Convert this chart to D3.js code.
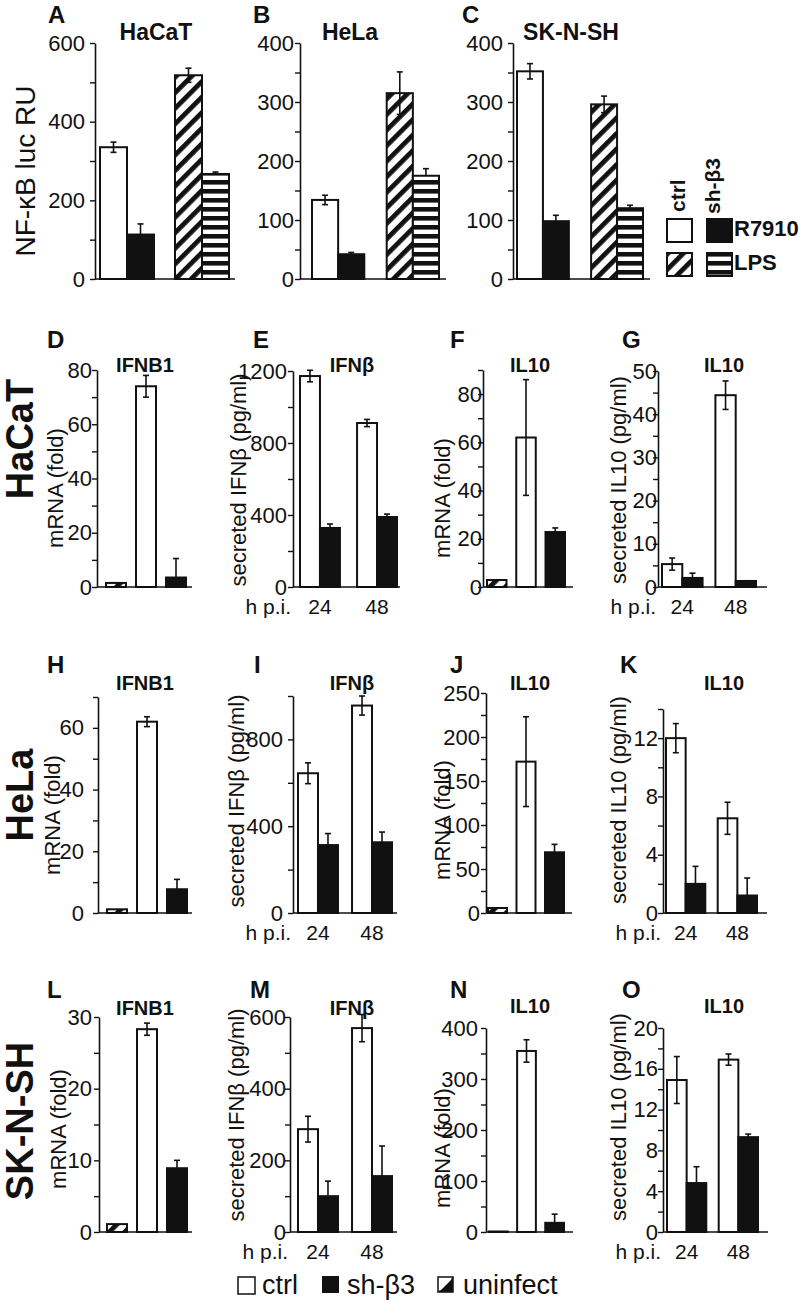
<!DOCTYPE html>
<html><head><meta charset="utf-8">
<script src="https://cdn.jsdelivr.net/npm/d3@7"></script>
<style>
body{margin:0;background:#fff}
text{font-family:"Liberation Sans",Arial,Helvetica,sans-serif;fill:#111}
</style></head>
<body>
<script>
// ---------- DATA ----------
// Top row: NF-kB luciferase (order: R7910 ctrl, R7910 sh-β3, LPS ctrl, LPS sh-β3)
const nfkbConditions = ["R7910", "LPS"];
const nfkbSeries = ["ctrl", "sh-β3"];
const nfkbHaCaT = [335, 113, 518, 267];
const nfkbHaCaTErr = [13, 27, 18, 5];
const nfkbHeLa = [134, 42, 315, 175];
const nfkbHeLaErr = [8, 3, 36, 12];
const nfkbSKNSH = [352, 98, 296, 120];
const nfkbSKNSHErr = [13, 10, 14, 5];

// mRNA panels (uninfect, ctrl, sh-β3)
const mrnaGroups = ["uninfect", "ctrl", "sh-β3"];
// secreted panels (24 ctrl, 24 sh-β3, 48 ctrl, 48 sh-β3)
const hpiTimes = ["24", "48"];
const secSeries = ["ctrl", "sh-β3"];

const hacatIFNB1 = [1.5, 74, 3.5],      hacatIFNB1Err = [0, 4, 7];
const hacatIFNb = [1172, 328, 911, 389], hacatIFNbErr = [32, 22, 20, 16];
const hacatIL10mRNA = [2.9, 62, 22.8],  hacatIL10mRNAErr = [0, 24, 1.7];
const hacatIL10sec = [5.3, 2.1, 44.4, 1.4], hacatIL10secErr = [1.4, 1.1, 3.3, 0];

const helaIFNB1 = [1.2, 62, 7.7],       helaIFNB1Err = [0, 1.6, 3.2];
const helaIFNb = [644, 313, 956, 326],  helaIFNbErr = [48, 53, 44, 47];
const helaIL10mRNA = [5.7, 172, 69],    helaIL10mRNAErr = [0, 51, 9];
const helaIL10sec = [12, 2, 6.5, 1.2],  helaIL10secErr = [1, 1.2, 1.1, 1.2];

const sknshIFNB1 = [1.1, 28.3, 8.9],    sknshIFNB1Err = [0, 0.85, 1.1];
const sknshIFNb = [287, 100, 569, 156], sknshIFNbErr = [36, 42, 38, 84];
const sknshIL10mRNA = [1, 355, 18],     sknshIL10mRNAErr = [0, 22, 17];
const sknshIL10sec = [14.9, 4.8, 16.9, 9.3], sknshIL10secErr = [2.3, 1.6, 0.55, 0.3];

// axis maxima / tick steps / label steps
const axisMax   = {A:600,B:400,C:400,D:80,E:1200,F:90,G:50,H:70,I:1000,J:250,K:14,L:30,M:600,N:400,O:20};
const tickStep  = {A:100,B:50,C:50,D:10,E:200,F:10,G:5,H:10,I:200,J:25,K:2,L:5,M:100,N:50,O:2};
const labelStep = {A:200,B:100,C:100,D:20,E:400,F:20,G:10,H:20,I:400,J:50,K:4,L:10,M:200,N:100,O:4};

const rowLabels = ["HaCaT", "HeLa", "SK-N-SH"];

// ---------- LAYOUT ----------
const W = 800, H = 1305;
const FONT = '"Liberation Sans",Arial,Helvetica,sans-serif';
const INK = "#111";

const svg = d3.select("body").append("svg").attr("width", W).attr("height", H);
const defs = svg.append("defs");
const pd = defs.append("pattern").attr("id", "diag").attr("patternUnits", "userSpaceOnUse")
  .attr("width", 11).attr("height", 11).attr("patternTransform", "rotate(45)");
pd.append("rect").attr("width", 11).attr("height", 11).attr("fill", "#fff");
pd.append("rect").attr("width", 4.8).attr("height", 11).attr("fill", INK);
const ph = defs.append("pattern").attr("id", "horiz").attr("patternUnits", "userSpaceOnUse")
  .attr("width", 9).attr("height", 9);
ph.append("rect").attr("width", 9).attr("height", 9).attr("fill", "#fff");
ph.append("rect").attr("width", 9).attr("height", 4.6).attr("fill", INK);

const panels = [
  {k:"A", kind:"pair", groups:nfkbConditions, series:nfkbSeries, vals:nfkbHaCaT, errs:nfkbHaCaTErr,
   fills:["#fff",INK,"url(#diag)","url(#horiz)"], dark:[0,1,0,1],
   axisX:95, y0:279, yTop:43, xr:[100,229], pad:0.28, end:235, tp:5,
   letter:[48,23], title:"HaCaT", tpos:[156,40], tsize:23,
   ylab:"NF-κB luc RU", ylpos:[25,171], ylsize:28},
  {k:"B", kind:"pair", groups:nfkbConditions, series:nfkbSeries, vals:nfkbHeLa, errs:nfkbHeLaErr,
   fills:["#fff",INK,"url(#diag)","url(#horiz)"], dark:[0,1,0,1],
   axisX:300, y0:279, yTop:43, xr:[312,439], pad:0.3, end:446, tp:1,
   letter:[253,23], title:"HeLa", tpos:[350,40], tsize:23},
  {k:"C", kind:"pair", groups:nfkbConditions, series:nfkbSeries, vals:nfkbSKNSH, errs:nfkbSKNSHErr,
   fills:["#fff",INK,"url(#diag)","url(#horiz)"], dark:[0,1,0,1],
   axisX:513, y0:279, yTop:43, xr:[517,643], pad:0.3, end:650, tp:5,
   letter:[462,23], title:"SK-N-SH", tpos:[571,40], tsize:23},

  {k:"D", kind:"mrna", vals:hacatIFNB1, errs:hacatIFNB1Err, axisX:97, y0:587, yTop:370, xr:[106,186], end:192, tp:0,
   letter:[47,348], title:"IFNB1", tpos:[145,372], ylab:"mRNA (fold)", ylpos:[55,488]},
  {k:"E", kind:"hpi", vals:hacatIFNb, errs:hacatIFNbErr, axisX:293, y0:587, yTop:371, xr:[300,397], pad:0.3, end:400, tp:1,
   letter:[253,348], title:"IFNβ", tpos:[352,372], ylab:"secreted IFNβ (pg/ml)", ylpos:[238,480]},
  {k:"F", kind:"mrna", vals:hacatIL10mRNA, errs:hacatIL10mRNAErr, axisX:483, y0:587, yTop:370, xr:[487,565], end:573, tp:-4,
   letter:[450,348], title:"IL10", tpos:[530,372], ylab:"mRNA (fold)", ylpos:[442,498]},
  {k:"G", kind:"hpi", vals:hacatIL10sec, errs:hacatIL10secErr, axisX:658, y0:587, yTop:371, xr:[662,756], pad:0.24, end:767, tp:-4,
   letter:[622,348], title:"IL10", tpos:[724,372], ylab:"secreted IL10 (pg/ml)", ylpos:[618,480]},

  {k:"H", kind:"mrna", vals:helaIFNB1, errs:helaIFNB1Err, axisX:98, y0:913, yTop:697, xr:[107,187], end:192, tp:9,
   letter:[47,673], title:"IFNB1", tpos:[145,690], ylab:"mRNA (fold)", ylpos:[52,815]},
  {k:"I", kind:"hpi", vals:helaIFNb, errs:helaIFNbErr, axisX:293, y0:913, yTop:696, xr:[298,392], pad:0.26, end:397, tp:5,
   letter:[254,673], title:"IFNβ", tpos:[352,690], ylab:"secreted IFNβ (pg/ml)", ylpos:[236,801]},
  {k:"J", kind:"mrna", vals:helaIL10mRNA, errs:helaIL10mRNAErr, axisX:486, y0:913, yTop:693, xr:[488,564], end:572, tp:1,
   letter:[450,673], title:"IL10", tpos:[530,690], ylab:"mRNA (fold)", ylpos:[442,820]},
  {k:"K", kind:"hpi", vals:helaIL10sec, errs:helaIL10secErr, axisX:663, y0:913, yTop:709, xr:[666,757], pad:0.24, end:767, tp:0,
   letter:[620,673], title:"IL10", tpos:[724,690], ylab:"secreted IL10 (pg/ml)", ylpos:[618,800]},

  {k:"L", kind:"mrna", vals:sknshIFNB1, errs:sknshIFNB1Err, axisX:99, y0:1232, yTop:1017, xr:[107,187], end:192, tp:2,
   letter:[47,998], title:"IFNB1", tpos:[145,1015], ylab:"mRNA (fold)", ylpos:[58,1129]},
  {k:"M", kind:"hpi", vals:sknshIFNb, errs:sknshIFNbErr, axisX:290, y0:1232, yTop:1017, xr:[298,392], pad:0.26, end:397, tp:-1,
   letter:[250,998], title:"IFNβ", tpos:[352,1015], ylab:"secreted IFNβ (pg/ml)", ylpos:[236,1115]},
  {k:"N", kind:"mrna", vals:sknshIL10mRNA, errs:sknshIL10mRNAErr, axisX:486, y0:1232, yTop:1028, xr:[489,564], end:573, tp:3,
   letter:[450,998], title:"IL10", tpos:[530,1013], ylab:"mRNA (fold)", ylpos:[442,1148]},
  {k:"O", kind:"hpi", vals:sknshIL10sec, errs:sknshIL10secErr, axisX:663, y0:1232, yTop:1028, xr:[667,758], pad:0.24, end:768, tp:0,
   letter:[622,998], title:"IL10", tpos:[724,1013], ylab:"secreted IL10 (pg/ml)", ylpos:[618,1117]},
];

function rotText(x, y, str, size, weight) {
  svg.append("text").attr("transform", `translate(${x},${y}) rotate(-90)`)
    .attr("text-anchor", "middle").attr("dy", "0.36em")
    .style("font-size", size + "px").style("font-weight", weight || "normal").text(str);
}

function drawPanel(p) {
  const max = axisMax[p.k], st = tickStep[p.k], ls = labelStep[p.k];
  const y = d3.scaleLinear().domain([0, max]).range([p.y0, p.yTop]);
  const g = svg.append("g");

  let items = [];
  if (p.kind === "mrna") {
    const x = d3.scaleBand().domain(mrnaGroups).range(p.xr).paddingInner(1/3).paddingOuter(0);
    const fills = ["url(#diag)", "#fff", INK];
    items = mrnaGroups.map((m, i) => ({x: x(m), w: x.bandwidth(), v: p.vals[i], e: p.errs[i], fill: fills[i], dark: i === 2}));
  } else {
    const groups = p.kind === "hpi" ? hpiTimes : p.groups;
    const series = p.kind === "hpi" ? secSeries : p.series;
    const outer = d3.scaleBand().domain(groups).range(p.xr).paddingInner(p.pad).paddingOuter(0);
    const inner = d3.scaleBand().domain(series).range([0, outer.bandwidth()]);
    const fills = p.fills || ["#fff", INK, "#fff", INK];
    const dark = p.dark || [0, 1, 0, 1];
    groups.forEach((gr, gi) => series.forEach((s, si) => {
      const i = gi * series.length + si;
      items.push({x: outer(gr) + inner(s), w: inner.bandwidth(), v: p.vals[i], e: p.errs[i], fill: fills[i], dark: !!dark[i]});
    }));
    if (p.kind === "hpi") {
      const ty = p.y0 + 27;
      g.append("text").attr("x", p.axisX - 2).attr("y", ty).attr("text-anchor", "end")
        .style("font-size", "21px").text("h p.i.");
      groups.forEach(gr => g.append("text").attr("x", outer(gr) + outer.bandwidth() / 2).attr("y", ty)
        .attr("text-anchor", "middle").style("font-size", "21px").text(gr));
    }
  }

  g.selectAll("rect.bar").data(items).join("rect").attr("class", "bar")
    .attr("x", d => d.x).attr("width", d => d.w)
    .attr("y", d => y(d.v)).attr("height", d => Math.max(0.5, p.y0 - y(d.v)))
    .attr("fill", d => d.fill).attr("stroke", INK).attr("stroke-width", 2);

  items.filter(d => d.e > 0).forEach(d => {
    const cx = d.x + d.w / 2;
    const top = y(d.v + d.e);
    const bot = d.dark ? y(d.v) : y(Math.max(0, d.v - d.e));
    g.append("line").attr("x1", cx).attr("x2", cx).attr("y1", top).attr("y2", bot)
      .attr("stroke", INK).attr("stroke-width", 1.6);
    g.append("line").attr("x1", cx - 3).attr("x2", cx + 3).attr("y1", top).attr("y2", top)
      .attr("stroke", INK).attr("stroke-width", 1.6);
    if (!d.dark) g.append("line").attr("x1", cx - 3).attr("x2", cx + 3).attr("y1", bot).attr("y2", bot)
      .attr("stroke", INK).attr("stroke-width", 1.6);
  });

  const ticks = d3.range(0, max + 1e-9, st);
  const ax = d3.axisLeft(y).tickValues(ticks)
    .tickFormat(v => Math.abs(v / ls - Math.round(v / ls)) < 1e-9 ? v : "")
    .tickSize(5).tickSizeOuter(0).tickPadding(p.tp);
  const ag = svg.append("g").attr("transform", `translate(${p.axisX},0)`).call(ax);
  ag.select(".domain").attr("stroke", INK).attr("stroke-width", 1.6);
  ag.selectAll(".tick line").attr("stroke", INK).attr("stroke-width", 1.4);
  ag.selectAll(".tick text").attr("fill", INK).style("font-size", "22px").style("font-family", FONT);

  svg.append("line").attr("x1", p.axisX).attr("x2", p.end).attr("y1", p.y0).attr("y2", p.y0)
    .attr("stroke", INK).attr("stroke-width", 1.6);

  svg.append("text").attr("x", p.letter[0]).attr("y", p.letter[1]).style("font-size", "24px")
    .style("font-weight", "bold").text(p.k);
  svg.append("text").attr("x", p.tpos[0]).attr("y", p.tpos[1]).attr("text-anchor", "middle")
    .style("font-size", (p.tsize || 20) + "px").style("font-weight", "bold").text(p.title);
  if (p.ylab) rotText(p.ylpos[0], p.ylpos[1], p.ylab, p.ylsize || 22);
}

panels.forEach(drawPanel);

rotText(19, 439, rowLabels[0], 38, "bold");
rotText(19, 795, rowLabels[1], 38, "bold");
rotText(19, 1121, rowLabels[2], 38, "bold");

// top-right legend
svg.append("text").attr("transform", "translate(685,212) rotate(-90)").style("font-size", "21px")
  .style("font-weight", "bold").text(nfkbSeries[0]);
svg.append("text").attr("transform", "translate(720,214) rotate(-90)").style("font-size", "21px")
  .style("font-weight", "bold").text(nfkbSeries[1]);
[[667,219,"#fff"],[707,219,INK],[667,253,"url(#diag)"],[707,253,"url(#horiz)"]].forEach(b =>
  svg.append("rect").attr("x", b[0]).attr("y", b[1]).attr("width", 25).attr("height", 23)
    .attr("fill", b[2]).attr("stroke", INK).attr("stroke-width", 2));
svg.append("text").attr("x", 734).attr("y", 236).style("font-size", "22px").style("font-weight", "bold").text(nfkbConditions[0]);
svg.append("text").attr("x", 734).attr("y", 270).style("font-size", "22px").style("font-weight", "bold").text(nfkbConditions[1]);

// bottom legend
const ly = 1294;
svg.append("rect").attr("x", 238).attr("y", 1277).attr("width", 17).attr("height", 17)
  .attr("fill", "#fff").attr("stroke", INK).attr("stroke-width", 1.5);
svg.append("text").attr("x", 262).attr("y", ly).style("font-size", "27px").text("ctrl");
svg.append("rect").attr("x", 322).attr("y", 1276).attr("width", 17).attr("height", 17).attr("fill", INK);
svg.append("text").attr("x", 347).attr("y", ly).style("font-size", "27px").text("sh-β3");
svg.append("rect").attr("x", 438).attr("y", 1277).attr("width", 15).attr("height", 15)
  .attr("fill", "#fff").attr("stroke", INK).attr("stroke-width", 1.5);
svg.append("path").attr("d", "M453,1277 L453,1292 L438,1292 Z").attr("fill", INK);
svg.append("line").attr("x1", 440).attr("y1", 1290).attr("x2", 451).attr("y2", 1279)
  .attr("stroke", "#fff").attr("stroke-width", 1.5);
svg.append("text").attr("x", 463).attr("y", ly).style("font-size", "27px").text("uninfect");
</script>
</body></html>
